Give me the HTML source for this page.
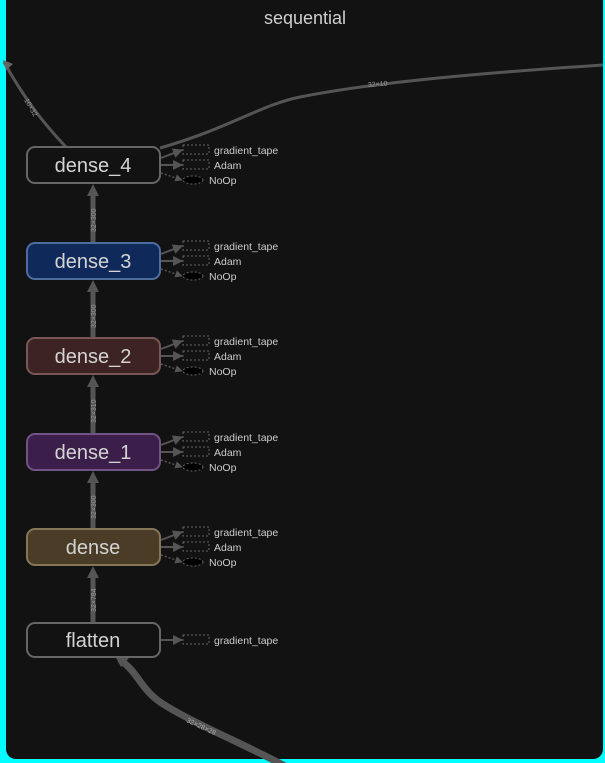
<!DOCTYPE html>
<html><head><meta charset="utf-8"><style>
html,body{margin:0;padding:0;background:#00ffff;width:605px;height:763px;overflow:hidden}
svg{display:block}
text{font-family:"Liberation Sans",sans-serif}
</style></head><body>
<svg width="605" height="763" viewBox="0 0 605 763" xmlns="http://www.w3.org/2000/svg">
<defs>
<marker id="ah" viewBox="0 0 10 10" refX="9" refY="5" markerWidth="5" markerHeight="5" orient="auto"><path d="M0,0L10,5L0,10z" fill="#555"/></marker>
</defs>
<rect x="0" y="0" width="605" height="763" fill="#00ffff"/>
<rect x="6" y="-12" width="597" height="771" rx="10" fill="#121212"/>
<text x="305" y="24" font-size="18" fill="#cfcfcf" text-anchor="middle">sequential</text>

<path d="M66,147 C45,125 25,100 4,62" stroke="#555" stroke-width="3" fill="none"/>
<path d="M3,60 l10,4 l-7,6z" fill="#666"/>
<text x="0" y="0" font-size="7" fill="#999" transform="translate(24,100) rotate(60)">10×32</text>
<path d="M160,148 C230,128 260,105 300,97 C360,85 450,75 603,65" stroke="#555" stroke-width="3" fill="none"/>
<text x="368" y="87" font-size="7" fill="#999" transform="rotate(-4 368 87)">32×10</text>

<path d="M285,766 C240,742 190,722 160,702 C140,688 138,672 120,660" stroke="#555" stroke-width="7" fill="none"/>
<path d="M114,654 l15,4 l-8,9z" fill="#555"/>
<text x="0" y="0" font-size="7" fill="#aaa" transform="translate(186,722) rotate(25)">32×28×28</text>

<g stroke="#555" stroke-width="5">
<line x1="93" y1="196" x2="93" y2="243"/>
<line x1="93" y1="292" x2="93" y2="338"/>
<line x1="93" y1="387" x2="93" y2="434"/>
<line x1="93" y1="483" x2="93" y2="529"/>
<line x1="93" y1="578" x2="93" y2="623"/>
</g>
<g fill="#555">
<path d="M87,196 L93,184 L99,196z"/><path d="M87,292 L93,280 L99,292z"/><path d="M87,387 L93,375 L99,387z"/><path d="M87,483 L93,471 L99,483z"/><path d="M87,578 L93,566 L99,578z"/>
</g>
<g font-size="7" fill="#999">
<text transform="translate(96,232) rotate(-90)">32×300</text>
<text transform="translate(96,328) rotate(-90)">32×300</text>
<text transform="translate(96,423) rotate(-90)">32×310</text>
<text transform="translate(96,519) rotate(-90)">32×300</text>
<text transform="translate(96,612) rotate(-90)">32×784</text>
</g>

<g stroke-width="2" font-size="20" text-anchor="middle">
<rect x="27" y="147" width="133" height="36" rx="8" fill="#121212" stroke="#666"/>
<text x="93" y="172" fill="#d4d4d4" stroke="none">dense_4</text>
<rect x="27" y="243" width="133" height="36" rx="8" fill="#0f2a5a" stroke="#4f6c9e"/>
<text x="93" y="268" fill="#d4d4d4" stroke="none">dense_3</text>
<rect x="27" y="338" width="133" height="36" rx="8" fill="#3d2323" stroke="#7a5757"/>
<text x="93" y="363" fill="#d4d4d4" stroke="none">dense_2</text>
<rect x="27" y="434" width="133" height="36" rx="8" fill="#3b1f4a" stroke="#6f5485"/>
<text x="93" y="459" fill="#d4d4d4" stroke="none">dense_1</text>
<rect x="27" y="529" width="133" height="36" rx="8" fill="#4a3c26" stroke="#857658"/>
<text x="93" y="554" fill="#d4d4d4" stroke="none">dense</text>
<rect x="27" y="623" width="133" height="34" rx="8" fill="#121212" stroke="#666"/>
<text x="93" y="647" fill="#d4d4d4" stroke="none">flatten</text>
</g>

<g font-size="10.5" fill="#cccccc">
<g transform="translate(0,165)">
<path d="M161,-7 L182,-15" stroke="#555" stroke-width="2" marker-end="url(#ah)"/>
<path d="M161,0 L182,0" stroke="#555" stroke-width="2" marker-end="url(#ah)"/>
<path d="M161,8 L182,15" stroke="#555" stroke-width="1.5" stroke-dasharray="2,2" marker-end="url(#ah)"/>
<rect x="183" y="-20" width="26" height="9" fill="none" stroke="#666" stroke-dasharray="2,2"/>
<rect x="183" y="-5" width="26" height="9" fill="none" stroke="#666" stroke-dasharray="2,2"/>
<ellipse cx="193" cy="15" rx="10" ry="4" fill="#000" stroke="#666" stroke-dasharray="2,2"/>
<text x="214" y="-11">gradient_tape</text><text x="214" y="4">Adam</text><text x="209" y="19">NoOp</text>
</g>
<g transform="translate(0,261)">
<path d="M161,-7 L182,-15" stroke="#555" stroke-width="2" marker-end="url(#ah)"/>
<path d="M161,0 L182,0" stroke="#555" stroke-width="2" marker-end="url(#ah)"/>
<path d="M161,8 L182,15" stroke="#555" stroke-width="1.5" stroke-dasharray="2,2" marker-end="url(#ah)"/>
<rect x="183" y="-20" width="26" height="9" fill="none" stroke="#666" stroke-dasharray="2,2"/>
<rect x="183" y="-5" width="26" height="9" fill="none" stroke="#666" stroke-dasharray="2,2"/>
<ellipse cx="193" cy="15" rx="10" ry="4" fill="#000" stroke="#666" stroke-dasharray="2,2"/>
<text x="214" y="-11">gradient_tape</text><text x="214" y="4">Adam</text><text x="209" y="19">NoOp</text>
</g>
<g transform="translate(0,356)">
<path d="M161,-7 L182,-15" stroke="#555" stroke-width="2" marker-end="url(#ah)"/>
<path d="M161,0 L182,0" stroke="#555" stroke-width="2" marker-end="url(#ah)"/>
<path d="M161,8 L182,15" stroke="#555" stroke-width="1.5" stroke-dasharray="2,2" marker-end="url(#ah)"/>
<rect x="183" y="-20" width="26" height="9" fill="none" stroke="#666" stroke-dasharray="2,2"/>
<rect x="183" y="-5" width="26" height="9" fill="none" stroke="#666" stroke-dasharray="2,2"/>
<ellipse cx="193" cy="15" rx="10" ry="4" fill="#000" stroke="#666" stroke-dasharray="2,2"/>
<text x="214" y="-11">gradient_tape</text><text x="214" y="4">Adam</text><text x="209" y="19">NoOp</text>
</g>
<g transform="translate(0,452)">
<path d="M161,-7 L182,-15" stroke="#555" stroke-width="2" marker-end="url(#ah)"/>
<path d="M161,0 L182,0" stroke="#555" stroke-width="2" marker-end="url(#ah)"/>
<path d="M161,8 L182,15" stroke="#555" stroke-width="1.5" stroke-dasharray="2,2" marker-end="url(#ah)"/>
<rect x="183" y="-20" width="26" height="9" fill="none" stroke="#666" stroke-dasharray="2,2"/>
<rect x="183" y="-5" width="26" height="9" fill="none" stroke="#666" stroke-dasharray="2,2"/>
<ellipse cx="193" cy="15" rx="10" ry="4" fill="#000" stroke="#666" stroke-dasharray="2,2"/>
<text x="214" y="-11">gradient_tape</text><text x="214" y="4">Adam</text><text x="209" y="19">NoOp</text>
</g>
<g transform="translate(0,547)">
<path d="M161,-7 L182,-15" stroke="#555" stroke-width="2" marker-end="url(#ah)"/>
<path d="M161,0 L182,0" stroke="#555" stroke-width="2" marker-end="url(#ah)"/>
<path d="M161,8 L182,15" stroke="#555" stroke-width="1.5" stroke-dasharray="2,2" marker-end="url(#ah)"/>
<rect x="183" y="-20" width="26" height="9" fill="none" stroke="#666" stroke-dasharray="2,2"/>
<rect x="183" y="-5" width="26" height="9" fill="none" stroke="#666" stroke-dasharray="2,2"/>
<ellipse cx="193" cy="15" rx="10" ry="4" fill="#000" stroke="#666" stroke-dasharray="2,2"/>
<text x="214" y="-11">gradient_tape</text><text x="214" y="4">Adam</text><text x="209" y="19">NoOp</text>
</g>
<g transform="translate(0,640)">
<path d="M161,0 L182,0" stroke="#555" stroke-width="2" marker-end="url(#ah)"/>
<rect x="183" y="-5" width="26" height="9" fill="none" stroke="#666" stroke-dasharray="2,2"/>
<text x="214" y="4">gradient_tape</text>
</g>
</g>
</svg>
</body></html>
